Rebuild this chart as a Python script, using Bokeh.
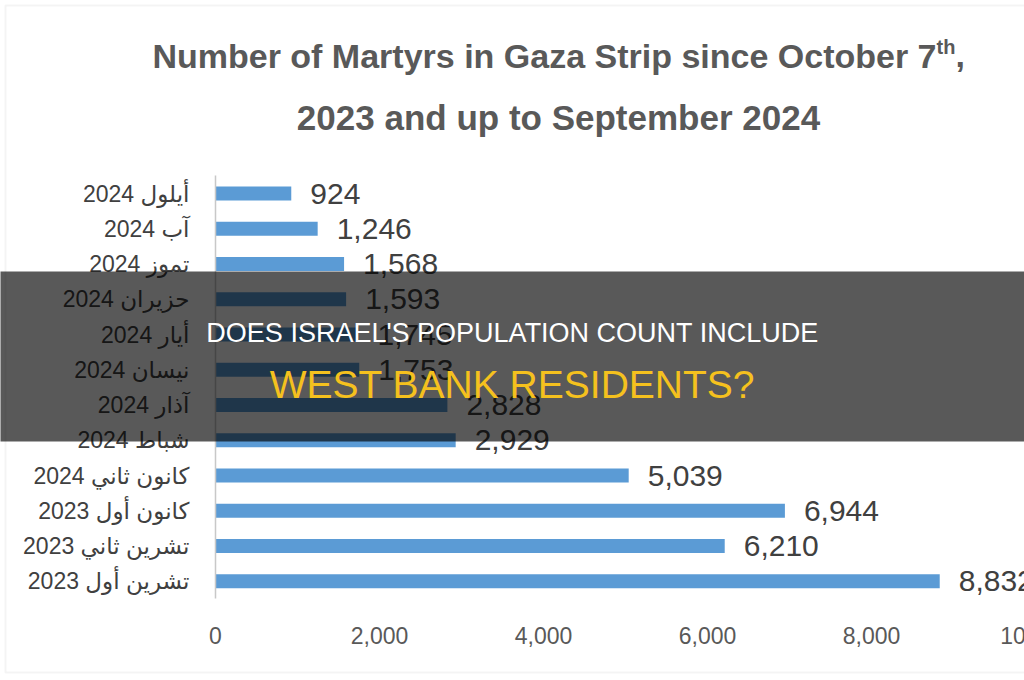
from bokeh.plotting import figure
from bokeh.models import (Range1d, Label, BoxAnnotation, FixedTicker,
                          NumeralTickFormatter, ColumnDataSource)
from bokeh.core.properties import value
from bokeh.embed import file_html
from bokeh.resources import INLINE

# Monthly martyr counts in the Gaza Strip, newest month first
months = ["أيلول 2024", "آب 2024", "تموز 2024", "حزيران 2024", "أيار 2024",
          "نيسان 2024", "آذار 2024", "شباط 2024", "كانون ثاني 2024",
          "كانون أول 2023", "تشرين ثاني 2023", "تشرين أول 2023"]
martyrs = [924, 1246, 1568, 1593, 1745, 1753, 2828, 2929, 5039, 6944, 6210, 8832]
x_ticks = [0, 2000, 4000, 6000, 8000, 10000]

title_line1 = "Number of Martyrs in Gaza Strip since October 7"
title_sup = "th"
title_line2 = "2023 and up to September 2024"
banner_line1 = "DOES ISRAEL'S POPULATION COUNT INCLUDE"
banner_line2 = "WEST BANK RESIDENTS?"

# ---- layout geometry (canvas pixels) ----
W, H = 1024, 680
X0_PX = 215            # where the value axis starts
X_SCALE = 0.0820       # pixels per person
TOP_BAR_PX = 193       # centre of the first row
ROW_PX = 35.25         # row pitch

BLUE = "#5B9BD5"
DARK = "#404040"
GREY = "#595959"
SANS = "Liberation Sans, DejaVu Sans"

n = len(months)
rows = [n - 1 - i for i in range(n)]          # first month at the top


def px_x(px):
    return (px - X0_PX) / X_SCALE


def px_y(py):
    return (n - 1) - (py - TOP_BAR_PX) / ROW_PX


p = figure(width=W, height=H, output_backend="svg", toolbar_location=None,
           x_range=Range1d(px_x(0), px_x(W)),
           y_range=Range1d(px_y(H), px_y(0)),
           min_border=0, min_border_left=0, min_border_right=0,
           min_border_top=0, min_border_bottom=0)
p.outline_line_color = None
p.background_fill_color = "white"
p.border_fill_color = "white"
p.xgrid.visible = False
p.ygrid.visible = False

src = ColumnDataSource(dict(row=rows, n=martyrs,
                            label=[f"{v:,}" for v in martyrs]))
p.hbar(y="row", right="n", height=0.4, source=src,
       fill_color=BLUE, line_color=None)
p.text(x="n", y="row", text="label", source=src, x_offset=19,
       text_align="left", text_baseline="middle",
       text_font_size="30px", text_color=DARK,
       text_font=value("Liberation Sans"))

# x axis: labels only, sitting under the last row
xa = p.xaxis[0]
xa.fixed_location = -0.5
xa.ticker = FixedTicker(ticks=x_ticks)
xa.formatter = NumeralTickFormatter(format="0,0")
xa.axis_line_color = None
xa.major_tick_line_color = None
xa.minor_tick_line_color = None
xa.major_label_standoff = 22
xa.major_label_text_font = SANS
xa.major_label_text_font_size = "23px"
xa.major_label_text_color = GREY

# y axis: month names and a thin grey line spanning the rows
ya = p.yaxis[0]
ya.fixed_location = 0
ya.bounds = (-0.5, n - 0.5)
ya.ticker = FixedTicker(ticks=rows)
ya.major_label_overrides = {r: m for r, m in zip(rows, months)}
ya.axis_line_color = "#C8C8C8"
ya.axis_line_width = 1.5
ya.major_tick_line_color = None
ya.minor_tick_line_color = None
ya.major_label_standoff = 20
ya.major_label_text_font = SANS
ya.major_label_text_font_size = "23px"
ya.major_label_text_color = DARK

# last tick label runs past the right edge
p.add_layout(Label(x=x_ticks[-1], y=-0.5, y_offset=-37, text=f"{x_ticks[-1]:,}",
                   text_align="center", text_baseline="middle",
                   text_font=SANS, text_font_size="23px", text_color=GREY))

# chart border
p.add_layout(BoxAnnotation(left=px_x(5), right=px_x(1100), top=px_y(5),
                           bottom=px_y(672), fill_alpha=0,
                           line_color="#DCDCDC", line_width=2))

# two-line title with superscript
p.add_layout(Label(x=px_x(936), y=px_y(55), text=title_line1,
                   text_align="right", text_baseline="alphabetic",
                   text_font=SANS, text_font_size="34px",
                   text_font_style="bold", text_color=GREY))
p.add_layout(Label(x=px_x(936), y=px_y(46), text=title_sup,
                   text_align="left", text_baseline="alphabetic",
                   text_font=SANS, text_font_size="20px",
                   text_font_style="bold", text_color=GREY))
p.add_layout(Label(x=px_x(955), y=px_y(55), text=",",
                   text_align="left", text_baseline="alphabetic",
                   text_font=SANS, text_font_size="34px",
                   text_font_style="bold", text_color=GREY))
p.add_layout(Label(x=px_x(558), y=px_y(117), text=title_line2,
                   text_align="center", text_baseline="alphabetic",
                   text_font=SANS, text_font_size="35px",
                   text_font_style="bold", text_color=GREY))

# dark headline banner across the chart
p.add_layout(BoxAnnotation(left=px_x(-20), right=px_x(1100),
                           top=px_y(271), bottom=px_y(441),
                           fill_color="black", fill_alpha=0.65,
                           line_color=None))
p.add_layout(Label(x=px_x(512), y=px_y(332), text=banner_line1,
                   text_align="center", text_baseline="alphabetic",
                   text_font=SANS, text_font_size="27px",
                   text_color="white", level="overlay"))
p.add_layout(Label(x=px_x(512), y=px_y(384), text=banner_line2,
                   text_align="center", text_baseline="alphabetic",
                   text_font=SANS, text_font_size="39px",
                   text_color="#F5C11E", level="overlay"))

open("out.html", "w").write(file_html(p, INLINE))
